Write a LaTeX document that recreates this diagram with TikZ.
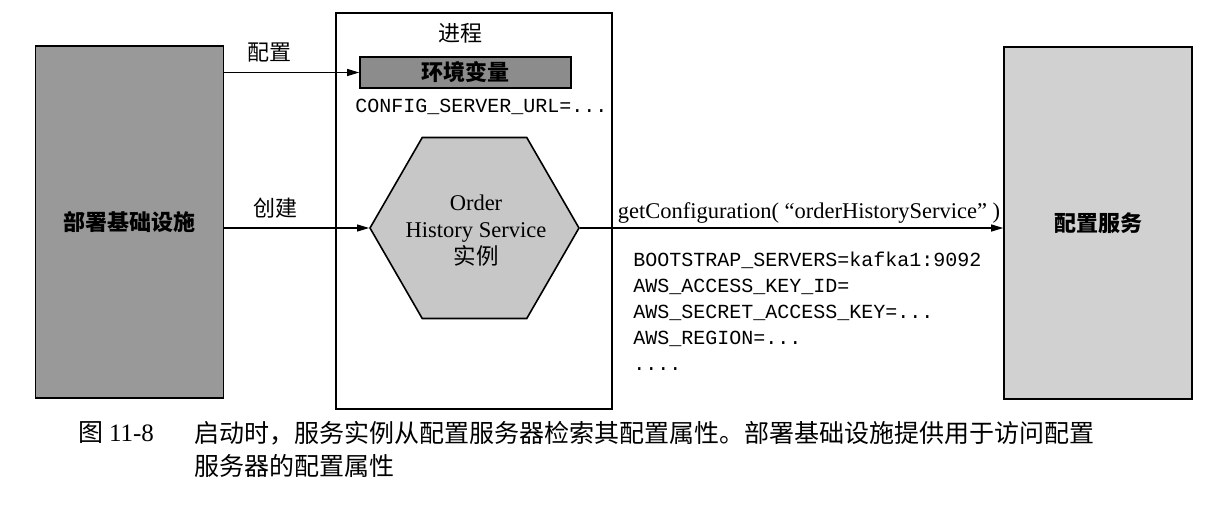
\documentclass[tikz,border=0pt]{standalone}
\usepackage{fontspec}
\setmainfont{Liberation Serif}
\setmonofont{Liberation Mono}
\newfontfamily\cjk{Noto Sans CJK SC}
\usetikzlibrary{positioning,arrows.meta,shapes.geometric}

\begin{document}
\begin{tikzpicture}[
  x=0.5pt, y=-0.5pt,
  box/.style={draw, thick, minimum width=94pt, minimum height=176pt, inner sep=0pt, font=\cjk\bfseries\fontsize{11}{13}\selectfont},
  arr/.style={-{Triangle[length=6pt,width=3.5pt]}, semithick},
  lbl/.style={inner sep=0pt, font=\cjk\fontsize{11}{13}\selectfont},
  code/.style={inner sep=0pt, align=left, font=\ttfamily\fontsize{10}{13}\selectfont},
  captext/.style={inner sep=0pt, anchor=west, font=\cjk\fontsize{12.5}{16}\selectfont}
]
\useasboundingbox (0,0) rectangle (1227,505);

% left and right blocks
\node[box, fill=black!40] (infra) at (129.5,222) {部署基础设施};
\node[box, fill=black!18] (cfgsvc) at (1098,223) {配置服务};

% process
\node[draw, thick, minimum width=138pt, minimum height=198pt, inner sep=0pt] (proc) at (474,211) {};
\node[lbl] (proclbl) at (460,33) {进程};
\node[draw, thick, fill=black!45, minimum width=105.5pt, minimum height=15.5pt, inner sep=0pt,
  font=\cjk\bfseries\fontsize{11}{13}\selectfont] (env) at (465.5,72.5) {环境变量};
\node[code] (url) at (481.5,107) {CONFIG\_SERVER\_URL=...};
\node[regular polygon, regular polygon sides=6, draw, thick, fill=black!22, minimum size=104.5pt,
  inner sep=0pt] (svc) at (474.5,228) {};
\node[align=center, inner sep=0pt, font=\fontsize{11.25}{13.5}\selectfont] (svctxt) at (476,231)
  {Order\\History Service\\{\cjk 实例}};

% connectors
\draw[arr] (infra.east |- env.west) -- (env.west);
\draw[arr] (infra.east |- svc.west) -- (svc.west);
\draw[arr] (svc.east) -- (cfgsvc.west |- svc.east);

\node[lbl] (cfglbl) at (269,53) {配置};
\node[lbl] (mklbl) at (275,208) {创建};
\node[inner sep=0pt, font=\fontsize{11.25}{13}\selectfont] (getcfg) at (809,213)
  {getConfiguration( “orderHistoryService” )};
\node[code, anchor=west] (props) at (633,311)
  {BOOTSTRAP\_SERVERS=kafka1:9092\\AWS\_ACCESS\_KEY\_ID=\\AWS\_SECRET\_ACCESS\_KEY=...\\AWS\_REGION=...\\....};

% caption
\node[captext] (capnum) at (78,433) {图\ {\rmfamily 11-8}};
\node[captext] (cap1) at (194,433) {启动时，服务实例从配置服务器检索其配置属性。部署基础设施提供用于访问配置};
\node[captext] (cap2) at (194,466) {服务器的配置属性};
\end{tikzpicture}
\end{document}
